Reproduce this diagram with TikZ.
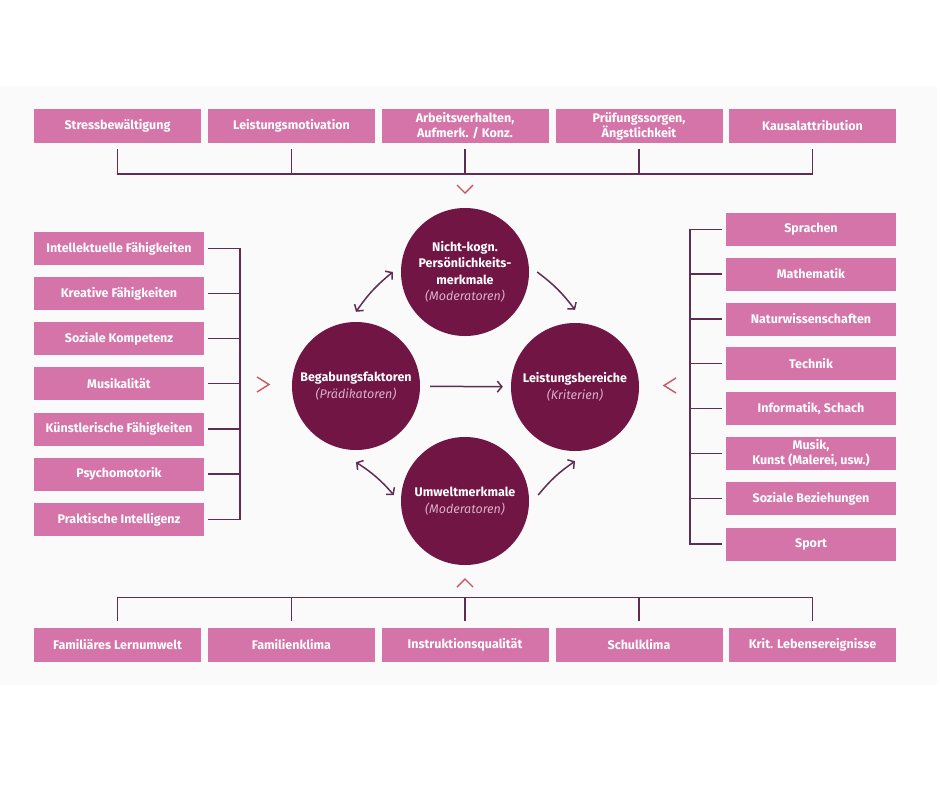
\documentclass[tikz,border=0pt]{standalone}
\usepackage{fontspec}
\setmainfont{Fira Sans}
\usetikzlibrary{arrows.meta}
\definecolor{pinkbox}{RGB}{212,116,168}
\definecolor{burg}{RGB}{112,21,68}
\definecolor{connc}{RGB}{95,45,80}
\definecolor{chevc}{RGB}{205,85,100}
\definecolor{italc}{RGB}{218,175,200}
\definecolor{panelc}{RGB}{250,250,250}
\begin{document}
\begin{tikzpicture}[x=1pt,y=-1pt,
  pbox/.style={fill=pinkbox, text=white, font=\bfseries\fontsize{12.5}{15}\selectfont, inner sep=0pt, align=center, minimum height=33pt},
  hbox/.style={pbox, minimum width=167pt, minimum height=34pt},
  vbox/.style={pbox, minimum width=170pt},
  circ/.style={circle, fill=burg, text=white, minimum size=128pt, inner sep=0pt, align=center, font=\bfseries\fontsize{12.5}{16.5}\selectfont},
  conn/.style={draw=connc, line width=1.6pt},
  chev/.style={draw=chevc, line width=1.4pt},
  arr/.style={draw=connc, line width=1.5pt, {Straight Barb[length=4.5pt,width=11pt]}-{Straight Barb[length=4.5pt,width=11pt]}},
  arrs/.style={draw=connc, line width=1.5pt, -{Straight Barb[length=4.5pt,width=11pt]}}
]
\useasboundingbox (0,0) rectangle (940,788);
\fill[panelc] (0,86) rectangle (937,685);

% top boxes
\node[hbox] (t1) at (117.5,126) {Stressbewältigung};
\node[hbox] (t2) at (291.5,126) {Leistungsmotivation};
\node[hbox] (t3) at (465,126) {Arbeitsverhalten,\\Aufmerk. / Konz.};
\node[hbox] (t4) at (639,126) {Prüfungssorgen,\\Ängstlichkeit};
\node[hbox] (t5) at (812.5,126) {Kausalattribution};

% bottom boxes
\node[hbox] (b1) at (117.5,644.5) {Familiäres Lernumwelt};
\node[hbox] (b2) at (291.5,644.5) {Familienklima};
\node[hbox] (b3) at (465,644.5) {Instruktionsqualität};
\node[hbox] (b4) at (639,644.5) {Schulklima};
\node[hbox] (b5) at (812.5,644.5) {Krit. Lebensereignisse};

% left boxes
\node[vbox] (l1) at (119,248.5) {Intellektuelle Fähigkeiten};
\node[vbox] (l2) at (119,293.5) {Kreative Fähigkeiten};
\node[vbox] (l3) at (119,338.5) {Soziale Kompetenz};
\node[vbox] (l4) at (119,383.5) {Musikalität};
\node[vbox] (l5) at (119,429) {Künstlerische Fähigkeiten};
\node[vbox] (l6) at (119,474) {Psychomotorik};
\node[vbox] (l7) at (119,519.5) {Praktische Intelligenz};

% right boxes
\node[vbox] (r1) at (811,229.5) {Sprachen};
\node[vbox] (r2) at (811,274) {Mathematik};
\node[vbox] (r3) at (811,319) {Naturwissenschaften};
\node[vbox] (r4) at (811,363.5) {Technik};
\node[vbox] (r5) at (811,408.5) {Informatik, Schach};
\node[vbox] (r6) at (811,453.5) {Musik,\\Kunst (Malerei, usw.)};
\node[vbox] (r7) at (811,498.5) {Soziale Beziehungen};
\node[vbox] (r8) at (811,544) {Sport};

% circles
\node[circ] (top) at (465,272) {Nicht-kogn.\\Persönlichkeits-\\merkmale\\\textcolor{italc}{\mdseries\itshape (Moderatoren)}};
\node[circ] (left) at (356,386) {Begabungsfaktoren\\\textcolor{italc}{\mdseries\itshape (Prädikatoren)}};
\node[circ] (right) at (575,387) {Leistungsbereiche\\\textcolor{italc}{\mdseries\itshape (Kriterien)}};
\node[circ] (bottom) at (465,501) {Umweltmerkmale\\\textcolor{italc}{\mdseries\itshape (Moderatoren)}};

% connectors top
\draw[conn] ([yshift=-6pt]t1.south) -- ++(0,25) -- ([yshift=-31pt]t5.south) -- ([yshift=-6pt]t5.south);
\foreach \n in {t2,t3,t4} \draw[conn] ([yshift=-6pt]\n.south) -- ++(0,25);
% connectors bottom
\draw[conn] ([yshift=6pt]b1.north) -- ++(0,-24) -- ([yshift=30pt]b5.north) -- ([yshift=6pt]b5.north);
\foreach \n in {b2,b3,b4} \draw[conn] ([yshift=6pt]\n.north) -- ++(0,-24);
% connectors left
\draw[conn] ([xshift=4pt]l1.east) -- ++(32,0) -- ([xshift=36pt]l7.east) -- ([xshift=4pt]l7.east);
\foreach \n in {l2,l3,l4,l5,l6} \draw[conn] ([xshift=4pt]\n.east) -- ++(32,0);
% connectors right
\draw[conn] ([xshift=-4pt]r1.west) -- ++(-32,0) -- ([xshift=-36pt]r8.west) -- ([xshift=-4pt]r8.west);
\foreach \n in {r2,r3,r4,r5,r6,r7} \draw[conn] ([xshift=-4pt]\n.west) -- ++(-32,0);

% chevrons
\draw[chev] (457,185) -- (465,193) -- (473,185);
\draw[chev] (457,587) -- (465,579) -- (473,587);
\draw[chev] (257,377) -- (269,384.5) -- (257,392);
\draw[chev] (676,378) -- (664,385.5) -- (676,393);

% arrows between circles
\draw[arrs, shorten <=10pt, shorten >=8pt] (left) -- (right);
\draw[arr] ([yshift=10pt]left.north) to[bend left=8] ([xshift=-8pt]top.west);
\draw[arrs] ([xshift=8pt]top.east) to[bend left=8] ([yshift=13pt]right.north);
\draw[arr] ([yshift=-12pt]left.south) to[bend left=8] ([xshift=-7pt,yshift=6pt]bottom.west);
\draw[arrs] ([xshift=9pt,yshift=6pt]bottom.east) to[bend left=8] ([yshift=-10pt]right.south);
\end{tikzpicture}
\end{document}
